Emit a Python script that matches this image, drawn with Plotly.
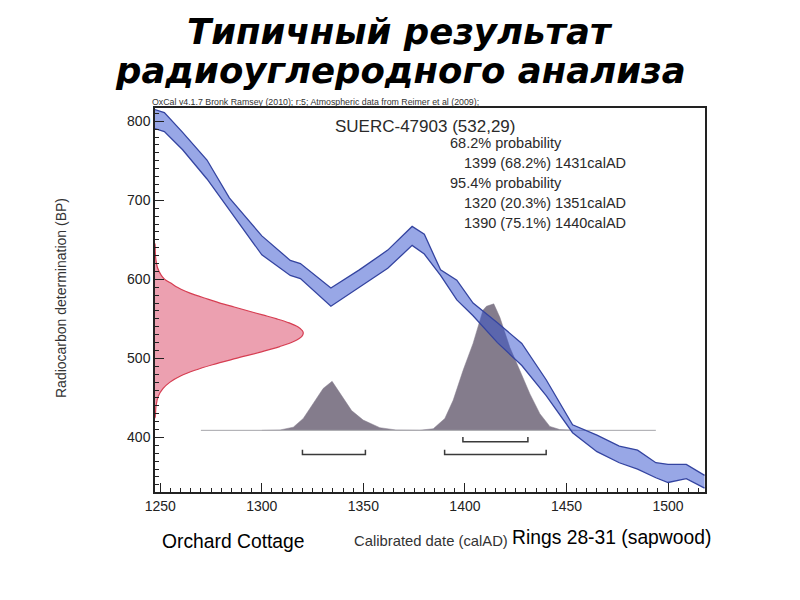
import plotly.graph_objects as go

# ---------------- data ----------------
# calibration curve (IntCal09) band edges, BP
curve_years = [1247, 1252, 1261, 1273, 1284, 1300, 1314, 1319, 1334, 1348, 1362,
               1374, 1380, 1388, 1396, 1404, 1416, 1428, 1440, 1453, 1465, 1476,
               1485, 1494, 1500, 1509, 1518]
curve_upper = [815, 811, 786, 751, 703, 655, 624, 620, 589, 612, 637,
               667, 657, 612, 599, 570, 545, 519, 473, 416, 403, 389,
               384, 368, 366, 366, 352]
curve_lower = [791, 787, 764, 727, 688, 631, 605, 601, 566, 590, 614,
               643, 632, 605, 574, 554, 520, 491, 453, 406, 382, 368,
               360, 349, 343, 348, 336]

# radiocarbon measurement distribution (532 +/- 29 BP), width in years from the axis
meas_bp = [645, 635, 625, 615, 605, 600, 595, 590, 585, 580, 575, 570, 565, 560, 555,
           550, 545, 540, 535, 532, 528, 522, 515, 508, 500, 492, 485, 478, 470, 462,
           452, 440, 425]
meas_width = [0.04, 0.13, 0.43, 1.2, 3.1, 4.8, 8, 11, 15, 20, 26, 32, 39, 46, 53,
              60, 66, 70.3, 72.6, 73, 72.3, 68.8, 61.4, 51.9, 39.9, 28.3, 19.6, 12.8, 7.4, 4.0,
              1.6, 0.5, 0.08]

# calibrated (posterior) probability distribution, heights in plot units
post_years = [1300, 1309, 1315.5, 1320.4, 1325.3, 1330.2, 1334.6, 1339.3, 1344.2, 1349.9,
              1358.1, 1366, 1377.8, 1384.4, 1389.3, 1390.1, 1394.2, 1399.1, 1404, 1408.9,
              1410.6, 1414.2, 1417.2, 1422.1, 1427, 1432, 1436.9, 1441.8, 1446.7, 1455]
post_height = [0, 0.5, 4, 15, 34, 53, 62, 44, 25, 13,
               3.4, 0.5, 0.2, 2, 13, 15, 38, 76, 110, 152,
               157, 160, 143, 105, 76, 46, 21, 5, 1, 0]

# calibrated ranges
range68 = [(1399, 1431)]
range95 = [(1320, 1351), (1390, 1440)]

x_ticks = [1250, 1300, 1350, 1400, 1450, 1500]
y_ticks = [400, 500, 600, 700, 800]

title_lines = ["Типичный результат", "радиоуглеродного анализа"]
header_text = "OxCal v4.1.7 Bronk Ramsey (2010); r:5; Atmospheric data from Reimer et al (2009);"
sample_text = "SUERC-47903 (532,29)"
prob_lines = ["68.2% probability", "1399 (68.2%) 1431calAD", "95.4% probability",
              "1320 (20.3%) 1351calAD", "1390 (75.1%) 1440calAD"]

# ---------------- layout constants ----------------
X_RANGE = [1247.4, 1518.2]
Y_RANGE = [331, 816.8]
BASE_YEAR = 1247.4
POST_BASE = 409
BASELINE_X = [1270, 1494]
Y68 = 394.5
Y95 = 378.5
TICKH = 6
L, R, T, B = 155, 705, 108, 492   # plot area in reference pixels
OFF = 8                            # page body margin compensation
FONT = "Liberation Sans, Arial, sans-serif"
TFONT = "DejaVu Sans, Verdana, sans-serif"


def px(x):
    return (x - L) / (R - L)


def py(y):
    return (B - y) / (B - T)


fig = go.Figure()

# measurement distribution (red)
mx = [BASE_YEAR] + [BASE_YEAR + w for w in meas_width] + [BASE_YEAR]
my = [meas_bp[0]] + meas_bp + [meas_bp[-1]]
fig.add_trace(go.Scatter(x=mx, y=my, mode="lines", fill="toself",
                         fillcolor="rgb(236,160,176)", line_shape="spline",
                         line=dict(color="rgb(214,62,82)", width=1.2),
                         hoverinfo="skip"))

# posterior distribution (grey)
gx = [post_years[0]] + post_years + [post_years[-1]]
gy = [POST_BASE] + [POST_BASE + h for h in post_height] + [POST_BASE]
fig.add_trace(go.Scatter(x=gx, y=gy, mode="lines", fill="toself",
                         fillcolor="rgb(132,124,140)",
                         line=dict(color="rgb(132,124,140)", width=0.5),
                         hoverinfo="skip"))

# baseline
fig.add_trace(go.Scatter(x=BASELINE_X, y=[POST_BASE, POST_BASE], mode="lines",
                         line=dict(color="rgb(165,165,170)", width=1), hoverinfo="skip"))

# range brackets
for (a, b) in range68:
    fig.add_trace(go.Scatter(x=[a, a, b, b], y=[Y68 + TICKH, Y68, Y68, Y68 + TICKH],
                             mode="lines", line=dict(color="#3a3a3a", width=1.5),
                             hoverinfo="skip"))
for (a, b) in range95:
    fig.add_trace(go.Scatter(x=[a, a, b, b], y=[Y95 + TICKH, Y95, Y95, Y95 + TICKH],
                             mode="lines", line=dict(color="#3a3a3a", width=1.5),
                             hoverinfo="skip"))

# calibration curve band
fig.add_trace(go.Scatter(x=curve_years, y=curve_lower, mode="lines",
                         line=dict(color="rgb(52,68,160)", width=1.3), hoverinfo="skip"))
fig.add_trace(go.Scatter(x=curve_years, y=curve_upper, mode="lines", fill="tonexty",
                         fillcolor="rgba(50,80,205,0.5)",
                         line=dict(color="rgb(52,68,160)", width=1.3), hoverinfo="skip"))

ann = []
for t, yy in zip(title_lines, [32, 70]):
    ann.append(dict(text="<b><i>" + t + "</i></b>", x=px(400), y=py(yy),
                    xref="paper", yref="paper", xanchor="center", yanchor="middle",
                    showarrow=False, font=dict(size=35.5, color="#000", family=TFONT)))
ann.append(dict(text=header_text, x=px(150), y=py(102), xref="paper", yref="paper",
                xanchor="left", yanchor="middle", showarrow=False,
                font=dict(size=8.8, color="#333", family=FONT)))
ann.append(dict(text=sample_text, x=px(333), y=py(127), xref="paper", yref="paper",
                xanchor="left", yanchor="middle", showarrow=False,
                font=dict(size=17, color="#2a2a2a", family=FONT)))
prob_x = [448, 462, 448, 462, 462]
prob_y = [143, 163, 183, 203, 223]
for t, xx, yy in zip(prob_lines, prob_x, prob_y):
    ann.append(dict(text=t, x=px(xx), y=py(yy), xref="paper", yref="paper",
                    xanchor="left", yanchor="middle", showarrow=False,
                    font=dict(size=14.5, color="#2a2a2a", family=FONT)))
ann.append(dict(text="Radiocarbon determination (BP)", x=px(61), y=py(298),
                xref="paper", yref="paper", textangle=-90, showarrow=False,
                xanchor="center", yanchor="middle",
                font=dict(size=14, color="#333", family=FONT)))
ann.append(dict(text="Calibrated date (calAD)", x=px(431), y=py(541),
                xref="paper", yref="paper", showarrow=False,
                xanchor="center", yanchor="middle",
                font=dict(size=14.8, color="#333", family=FONT)))
ann.append(dict(text="Orchard Cottage", x=px(233), y=py(541),
                xref="paper", yref="paper", showarrow=False,
                xanchor="center", yanchor="middle",
                font=dict(size=19.3, color="#000", family=FONT)))
ann.append(dict(text="Rings 28-31 (sapwood)", x=px(611), y=py(537),
                xref="paper", yref="paper", showarrow=False,
                xanchor="center", yanchor="middle",
                font=dict(size=19.3, color="#000", family=FONT)))

fig.update_layout(
    width=800, height=600,
    margin=dict(l=L - OFF, r=800 - R + OFF, t=T - OFF, b=600 - B + OFF),
    paper_bgcolor="white", plot_bgcolor="white",
    showlegend=False,
    annotations=ann,
    xaxis=dict(range=X_RANGE, tickvals=x_ticks, ticks="inside", ticklen=9,
               tickcolor="#222", showline=True, linecolor="#222", linewidth=1.5,
               mirror=True, showgrid=False, zeroline=False,
               tickfont=dict(size=14, color="#222", family=FONT),
               minor=dict(dtick=5, tick0=1250, ticks="inside", ticklen=4, tickcolor="#222",
                          showgrid=False)),
    yaxis=dict(range=Y_RANGE, tickvals=y_ticks, ticks="inside", ticklen=9,
               tickcolor="#222", showline=True, linecolor="#222", linewidth=1.5,
               mirror=True, showgrid=False, zeroline=False,
               tickfont=dict(size=14, color="#222", family=FONT),
               minor=dict(dtick=10, tick0=400, ticks="inside", ticklen=4, tickcolor="#222",
                          showgrid=False)),
)

fig.write_html("out.html")
